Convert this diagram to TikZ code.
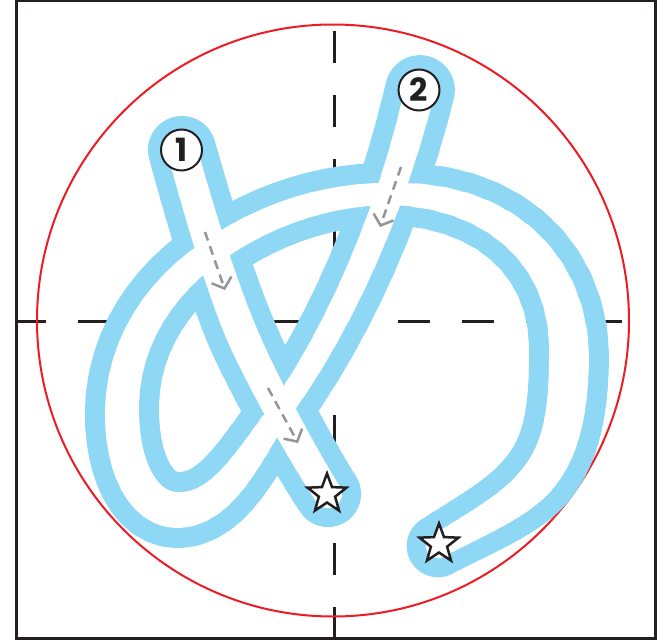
\documentclass[tikz,border=0pt]{standalone}
\usepackage{fontspec}
\newfontfamily\numfont{Poppins}
\usetikzlibrary{arrows.meta,shapes.geometric}
\definecolor{tube}{RGB}{142,216,246}
\definecolor{redc}{RGB}{237,28,36}
\definecolor{ink}{RGB}{35,31,32}
\definecolor{guide}{RGB}{147,149,152}
% a cubic curve drawn in 12 short pieces whose width goes from #2 to #3
\newcommand\tubebez[4]{%
  \foreach \xa/\ya/\xb/\yb/\xc/\yc/\xd/\yd in {#4}{%
    \foreach \k in {0,...,11}{%
      \pgfmathsetmacro\ta{\k/12}%
      \pgfmathsetmacro\tb{(\k+1)/12}%
      \pgfmathsetmacro\wk{#2+(#3-#2)*(\k+0.5)/12}%
      \draw[#1, line width=\wk pt, line cap=round, line join=round]
        plot[domain=\ta:\tb, samples=6, variable=\x]
        ({(1-\x)^3*\xa+3*(1-\x)^2*\x*\xb+3*(1-\x)*\x^2*\xc+\x^3*\xd},
         {(1-\x)^3*\ya+3*(1-\x)^2*\x*\yb+3*(1-\x)*\x^2*\yc+\x^3*\yd});
    }}}
\begin{document}
\begin{tikzpicture}[x=1pt,y=-1pt,
  guideline/.style={ink, line width=3pt, dash pattern=on 32pt off 32pt},
  guidearrow/.style={guide, line width=2.5pt, dash pattern=on 9pt off 6pt,
    -{Straight Barb[length=9pt,width=21pt]}},
  numcirc/.style={circle, draw=ink, line width=2pt, fill=white, minimum size=41pt,
    inner sep=0pt, font=\numfont\bfseries\fontsize{32}{32}\selectfont, text=ink},
  starmark/.style={star, star points=5, star point ratio=2.4, draw=ink, fill=white,
    line width=2.5pt, minimum size=41pt, inner sep=0pt}]
\useasboundingbox (0,0) rectangle (662,642);
% guide lines
\draw[guideline] (334,31) -- (334,638);
\draw[guideline, dash phase=3pt] (17,321) -- (622,321);
\draw[ink, line width=3pt] (16.5,1) rectangle (655,638.5);
\draw[redc, line width=2pt] (333,320.5) circle (296);
% blue layer (outer width)
\tubebez{tube}{70}{62}{420/90/392/206.6/343/323.6/279/413}
\tubebez{tube}{62}{76}{279/413/250/453.7/223/510/178/510}
\tubebez{tube}{76}{74}{178/510/143/510/122/467/122/412}
\tubebez{tube}{74}{66}{122/412/122/342/160.8/287.8/210/253}
\tubebez{tube}{66}{62}{210/253/267.4/212.4/330/194/390/194}
\tubebez{tube}{62}{80}{390/194/497/194/569/258/569/355}
\tubebez{tube}{80}{76}{569/355/569/420/558/455.25/536.1/480.5}
\tubebez{tube}{76}{62}{536.1/480.5/514.25/505.75/481.5/521/438/546}
\tubebez{tube}{68}{70}{182/150/195.5/198/217.8/276.7/241/332}
\tubebez{tube}{70}{66}{241/332/260.4/378.1/306/460.6/328/494}
% white layer (inner channel)
\tubebez{white}{30}{22}{420/90/392/206.6/343/323.6/279/413}
\tubebez{white}{22}{36}{279/413/250/453.7/223/510/178/510}
\tubebez{white}{36}{34}{178/510/143/510/122/467/122/412}
\tubebez{white}{34}{26}{122/412/122/342/160.8/287.8/210/253}
\tubebez{white}{26}{22}{210/253/267.4/212.4/330/194/390/194}
\tubebez{white}{22}{40}{390/194/497/194/569/258/569/355}
\tubebez{white}{40}{36}{569/355/569/420/558/455.25/536.1/480.5}
\tubebez{white}{36}{24}{536.1/480.5/514.25/505.75/481.5/521/438/546}
\tubebez{white}{30}{32}{182/150/195.5/198/217.8/276.7/241/332}
\tubebez{white}{32}{28}{241/332/260.4/378.1/306/460.6/328/494}
% direction arrows
\draw[guidearrow] (205,232) -- (225,290);
\draw[guidearrow] (401,167) -- (380,227);
\draw[guidearrow] (268,388) -- (298,443);
% numbers and stars
\node[numcirc] (n1) at (181.5,150) {1};
\node[numcirc] (n2) at (419,90) {2};
\node[starmark] (s1) at (327,494) {};
\node[starmark] (s2) at (439,544) {};
\end{tikzpicture}
\end{document}
